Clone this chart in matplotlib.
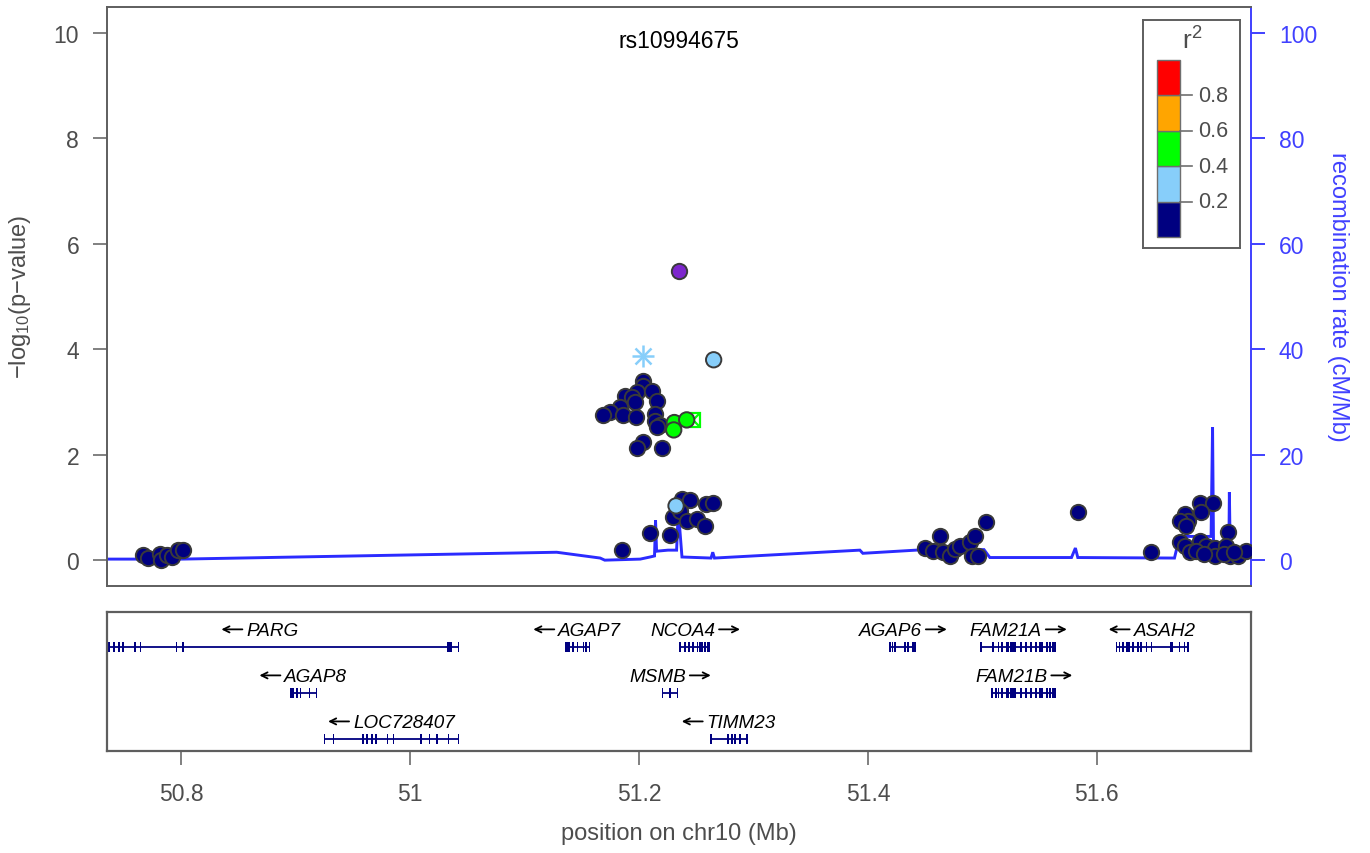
import matplotlib
matplotlib.use("Agg")
import matplotlib.pyplot as plt
from matplotlib.patches import Rectangle
from matplotlib.transforms import offset_copy

plt.rcParams['font.family'] = ['Liberation Sans', 'DejaVu Sans']
plt.rcParams['mathtext.fontset'] = 'custom'
plt.rcParams['mathtext.rm'] = 'Liberation Sans'
plt.rcParams['mathtext.it'] = 'Liberation Sans:italic'

# ---------------- data ----------------
chrom = "chr10"
index_snp = "rs10994675"
index_pos = 51.2349
index_logp = 5.49
flank = 0.5

# LD (r^2) bins and colours
ld_breaks = [0.0, 0.2, 0.4, 0.6, 0.8, 1.0]
ld_colors = ["#000080", "#87CEFA", "#00FF00", "#FFA500", "#FF0000"]

# SNPs with r^2 < 0.2
low_pos = [50.766, 50.771, 50.781, 50.782, 50.787, 50.792, 50.797, 50.801,
           51.2038, 51.2038, 51.1980, 51.2111, 51.1878, 51.1936, 51.2155,
           51.1834, 51.1965, 51.1747, 51.1688, 51.1863, 51.2140, 51.1971,
           51.2140, 51.2183, 51.2157, 51.2038, 51.1985, 51.2204,
           51.1849, 51.2096, 51.2271, 51.2294, 51.2373, 51.2445, 51.2358,
           51.2417, 51.2504, 51.2576, 51.2585, 51.2644,
           51.4498, 51.4570, 51.4629, 51.4658, 51.4716, 51.4760, 51.4803,
           51.4891, 51.4934, 51.4906, 51.4963, 51.5031, 51.5837,
           51.6478, 51.6900, 51.7016, 51.6769, 51.6798, 51.6725, 51.6915,
           51.6783, 51.7147, 51.6725, 51.6769, 51.6900, 51.6958, 51.7031,
           51.7133, 51.6812, 51.6870, 51.7031, 51.7162, 51.7234, 51.7308,
           51.6939, 51.7114, 51.7201]
low_logp = [0.09, 0.04, 0.11, 0.00, 0.09, 0.06, 0.19, 0.19,
            3.40, 3.30, 3.19, 3.21, 3.12, 3.09, 3.02,
            2.90, 3.00, 2.81, 2.76, 2.76, 2.77, 2.71,
            2.64, 2.56, 2.52, 2.24, 2.12, 2.13,
            0.20, 0.51, 0.47, 0.82, 1.16, 1.14, 0.94,
            0.75, 0.78, 0.65, 1.06, 1.09,
            0.24, 0.18, 0.46, 0.15, 0.08, 0.21, 0.27,
            0.34, 0.46, 0.08, 0.08, 0.72, 0.91,
            0.15, 1.09, 1.08, 0.87, 0.75, 0.75, 0.91,
            0.65, 0.54, 0.34, 0.27, 0.37, 0.27, 0.24,
            0.27, 0.15, 0.18, 0.07, 0.08, 0.07, 0.18,
            0.11, 0.11, 0.15]

# SNPs with higher LD to the index SNP
hi_pos = [51.2323, 51.2652, 51.2308, 51.2303, 51.2416]
hi_logp = [1.03, 3.80, 2.61, 2.47, 2.66]
hi_r2 = [0.30, 0.30, 0.50, 0.50, 0.50]

# annotated SNPs drawn with other symbols
star_pos, star_logp, star_r2 = [51.2033], [3.88], [0.30]
boxx_pos, boxx_logp, boxx_r2 = [51.2469], [2.66], [0.50]

# recombination rate (cM/Mb)
recomb_pos = [50.7349, 50.800, 51.128, 51.166, 51.170, 51.201, 51.2096,
              51.2135, 51.2144, 51.2153, 51.2253, 51.2328, 51.2338, 51.2352,
              51.2375, 51.2629, 51.2644, 51.2659, 51.393, 51.3956, 51.4498,
              51.5015, 51.5066, 51.578, 51.5814, 51.5835, 51.668, 51.6725,
              51.7000, 51.7013, 51.7022, 51.7155, 51.7160, 51.7168, 51.7349]
recomb_rate = [0.2, 0.2, 1.5, 0.4, 0.0, 0.2, 0.6,
               0.8, 7.6, 1.7, 1.9, 1.9, 7.0, 7.0,
               0.6, 0.4, 1.5, 0.4, 1.9, 1.3, 2.0,
               2.0, 0.5, 0.5, 2.3, 0.5, 0.4, 4.5,
               4.5, 25.2, 1.0, 1.0, 12.9, 0.5, 0.5]

# genes in the region
gene_names = ["PARG", "AGAP8", "LOC728407", "AGAP7", "NCOA4", "MSMB",
              "TIMM23", "AGAP6", "FAM21A", "FAM21B", "ASAH2"]
gene_start = [50.695, 50.8952, 50.9249, 51.1354, 51.2358, 51.2204,
              51.2629, 51.4192, 51.4984, 51.5080, 51.6172]
gene_end = [51.0422, 50.9180, 51.0422, 51.1566, 51.2620, 51.2335,
            51.2941, 51.4419, 51.5645, 51.5645, 51.6798]
gene_strand = ["-", "-", "-", "-", "+", "+", "-", "+", "+", "+", "-"]
gene_row = [0, 1, 2, 0, 0, 1, 2, 0, 0, 1, 0]
gene_exons = [
    [(50.7366, 50.7366), (50.7409, 50.7409), (50.7452, 50.7452), (50.7491, 50.7491),
     (50.7592, 50.7592), (50.7642, 50.7642), (50.7956, 50.7956), (50.8015, 50.8015),
     (51.0318, 51.0364), (51.0420, 51.0420)],
    [(50.8952, 50.8980), (50.9010, 50.9010), (50.9040, 50.9040), (50.9120, 50.9120),
     (50.9180, 50.9180)],
    [(50.9249, 50.9249), (50.9330, 50.9330), (50.9587, 50.9587), (50.9622, 50.9622),
     (50.9666, 50.9666), (50.9703, 50.9703), (50.9802, 50.9802), (50.9854, 50.9854),
     (51.0093, 51.0093), (51.0169, 51.0169), (51.0233, 51.0233), (51.0335, 51.0335),
     (51.0420, 51.0420)],
    [(51.1354, 51.1397), (51.1421, 51.1421), (51.1461, 51.1461), (51.1514, 51.1514),
     (51.1537, 51.1537), (51.1566, 51.1566)],
    [(51.2358, 51.2358), (51.2402, 51.2402), (51.2439, 51.2439), (51.2474, 51.2474),
     (51.2504, 51.2515), (51.2525, 51.2560), (51.2570, 51.2580), (51.2595, 51.2620)],
    [(51.2204, 51.2204), (51.2271, 51.2271), (51.2335, 51.2335)],
    [(51.2629, 51.2629), (51.2775, 51.2775), (51.2810, 51.2810), (51.2838, 51.2838),
     (51.2882, 51.2882), (51.2941, 51.2941)],
    [(51.4192, 51.4192), (51.4216, 51.4216), (51.4236, 51.4236), (51.4323, 51.4323),
     (51.4352, 51.4352), (51.4382, 51.4419)],
    [(51.4984, 51.5001), (51.5092, 51.5092), (51.5135, 51.5150), (51.5165, 51.5179),
     (51.5208, 51.5230), (51.5240, 51.5295), (51.5339, 51.5339), (51.5383, 51.5383),
     (51.5426, 51.5426), (51.5470, 51.5470), (51.5500, 51.5528), (51.5557, 51.5575),
     (51.5585, 51.5600), (51.5610, 51.5645)],
    [(51.5080, 51.5095), (51.5115, 51.5125), (51.5135, 51.5150), (51.5165, 51.5179),
     (51.5208, 51.5230), (51.5240, 51.5295), (51.5339, 51.5339), (51.5383, 51.5383),
     (51.5426, 51.5426), (51.5470, 51.5470), (51.5500, 51.5528), (51.5557, 51.5575),
     (51.5585, 51.5600), (51.5610, 51.5645)],
    [(51.6172, 51.6172), (51.6200, 51.6200), (51.6229, 51.6229), (51.6259, 51.6288),
     (51.6317, 51.6317), (51.6361, 51.6361), (51.6390, 51.6390), (51.6434, 51.6434),
     (51.6478, 51.6478), (51.6638, 51.6667), (51.6725, 51.6725), (51.6769, 51.6769),
     (51.6798, 51.6798)],
]

x_ticks = [50.8, 51.0, 51.2, 51.4, 51.6]
x_ticklabels = ["50.8", "51", "51.2", "51.4", "51.6"]
y_ticks = [0, 2, 4, 6, 8, 10]
recomb_ticks = [0, 20, 40, 60, 80, 100]

# ---------------- styling ----------------
GREY = "#4d4d4d"
FRAME = "#5e5e5e"
BLUE = "#2b2bff"
BLUE_TXT = "#4040ff"
GENE_COL = "#000080"
EDGE = "#3a3a3a"


def ld_color(r2):
    for lo, hi, c in zip(ld_breaks[:-1], ld_breaks[1:], ld_colors):
        if lo <= r2 < hi:
            return c
    return ld_colors[-1]


W, H = 1370, 854


def box(x0, y0, x1, y1):
    return [x0 / W, 1 - y1 / H, (x1 - x0) / W, (y1 - y0) / H]


fig = plt.figure(figsize=(13.7, 8.54), dpi=100)

# ---------------- association panel ----------------
ax = fig.add_axes(box(107, 8, 1251, 587))
ax2 = ax.twinx()
ax.set_zorder(ax2.get_zorder() + 1)
ax.patch.set_visible(False)

xlim = (index_pos - flank, index_pos + flank)
ylim = (-0.49, 10.49)
ax.set_xlim(xlim)
ax.set_ylim(ylim)
ax2.set_ylim(ylim[0] * 10, ylim[1] * 10)

ax2.plot(recomb_pos, recomb_rate, color=BLUE, lw=2.1, solid_joinstyle="miter", zorder=1)

pt_size = 122
ax.scatter(low_pos, low_logp, s=pt_size, c=ld_colors[0], edgecolors=EDGE,
           linewidths=1.4, zorder=3)
ax.scatter(hi_pos, hi_logp, s=pt_size, c=[ld_color(r) for r in hi_r2],
           edgecolors=EDGE, linewidths=1.4, zorder=4)
# asterisk symbol (plus + cross)
for p, v, r in zip(star_pos, star_logp, star_r2):
    ax.plot(p, v, marker="+", ms=16, mew=1.8, color=ld_color(r), zorder=4)
    ax.plot(p, v, marker="x", ms=11.3, mew=1.8, color=ld_color(r), zorder=4)
# square with cross
for p, v, r in zip(boxx_pos, boxx_logp, boxx_r2):
    ax.plot(p, v, marker="s", ms=10.5, mew=1.6, mfc="none", mec=ld_color(r), zorder=3.5)
    ax.plot(p, v, marker="x", ms=10.5, mew=1.6, color=ld_color(r), zorder=3.5)
# index SNP
ax.scatter([index_pos], [index_logp], s=pt_size, c="#7D26CD", edgecolors=EDGE,
           linewidths=1.4, zorder=5)

ax.text(index_pos, 9.85, index_snp, ha="center", va="center", fontsize=16.5, color="black")

ax.set_yticks(y_ticks)
ax.set_yticklabels([str(t) for t in y_ticks])
ax.tick_params(axis="y", length=10, width=1.1, color=FRAME, labelsize=16.5,
               labelcolor=GREY, pad=10)
ax.tick_params(axis="x", bottom=False, labelbottom=False)
for side in ["left", "top", "bottom"]:
    ax.spines[side].set_color(FRAME)
    ax.spines[side].set_linewidth(1.4)
ax.spines["right"].set_visible(False)

ax2.set_yticks(recomb_ticks)
ax2.set_yticklabels([str(t) for t in recomb_ticks])
ax2.tick_params(axis="y", length=10, width=1.4, color=BLUE_TXT, labelsize=16.5,
                labelcolor=BLUE_TXT, pad=10)
for side in ["left", "top", "bottom"]:
    ax2.spines[side].set_visible(False)
ax2.spines["right"].set_color(BLUE_TXT)
ax2.spines["right"].set_linewidth(1.4)

fig.text(20 / W, 1 - 297 / H, "\u2212log$_{\\mathregular{10}}$(p\u2212value)",
         rotation=90, ha="center", va="center", fontsize=17, color=GREY)
fig.text(1338 / W, 1 - 297 / H, "recombination rate (cM/Mb)", rotation=270,
         ha="center", va="center", fontsize=17, color=BLUE_TXT)

# ---------------- r^2 legend ----------------
lg = fig.add_axes(box(1143, 21, 1240, 249))
lg.set_xlim(0, 97)
lg.set_ylim(228, 0)
lg.set_xticks([])
lg.set_yticks([])
for s in lg.spines.values():
    s.set_color(FRAME)
    s.set_linewidth(1.4)
bar_top, seg_h = 39.7, 35.5
n = len(ld_colors)
for i, c in enumerate(ld_colors):
    y0 = bar_top + (n - 1 - i) * seg_h
    lg.add_patch(Rectangle((14, y0), 23, seg_h, facecolor=c, edgecolor="#6e6e6e", lw=1.0))
for i, b in enumerate(ld_breaks[1:-1]):
    yb = bar_top + (n - 1 - i) * seg_h
    lg.plot([37, 49], [yb, yb], color="#6e6e6e", lw=1.2)
    lg.text(55, yb, f"{b:.1f}", ha="left", va="center", fontsize=15.5, color=GREY)
lg.text(49, 20, "r$^{\\mathregular{2}}$", ha="center", va="center", fontsize=19, color=GREY)

# ---------------- gene panel ----------------
gx = fig.add_axes(box(107, 613, 1251, 752))
gx.set_xlim(xlim)
gx.set_ylim(-2.26, 0.76)
exon_h = 0.1
min_w = 0.0014
renderer = fig.canvas.get_renderer()
arrow_px, gap_px, arrow_dy = 21, 4, 1.5


def shifted(dx, dy=0.0):
    return offset_copy(gx.transData, fig=fig, x=dx, y=dy, units="dots")


for name, st, en, strand, row, exons in zip(gene_names, gene_start, gene_end,
                                            gene_strand, gene_row, gene_exons):
    y = -row
    gx.plot([st, en], [y, y], color=GENE_COL, lw=1.3, solid_capstyle="butt")
    for a, b in exons:
        w = max(b - a, min_w)
        cx = (a + b) / 2
        gx.add_patch(Rectangle((cx - w / 2, y - exon_h), w, 2 * exon_h,
                               facecolor=GENE_COL, edgecolor="none"))

    # gene name with a strand arrow, centred on the gene
    gc, ly = (st + en) / 2, y + 0.35
    t = gx.text(gc, ly, name, ha="center", va="center", fontsize=13.6,
                style="italic", color="black")
    wpx = t.get_window_extent(renderer).width
    total = arrow_px + gap_px + wpx
    if strand == "-":
        name_dx = (total - wpx) / 2
        tip, tail = -total / 2, -total / 2 + arrow_px
    else:
        name_dx = -(total - wpx) / 2
        tip, tail = total / 2, total / 2 - arrow_px
    t.set_transform(shifted(name_dx))
    gx.annotate("", xy=(gc, ly), xycoords=shifted(tip, arrow_dy),
                xytext=(gc, ly), textcoords=shifted(tail, arrow_dy),
                arrowprops=dict(arrowstyle="->", lw=1.3, color="black",
                                shrinkA=0, shrinkB=0, mutation_scale=11))

gx.set_yticks([])
gx.set_xticks(x_ticks)
gx.set_xticklabels(x_ticklabels)
gx.tick_params(axis="x", length=10, width=1.1, color=FRAME, labelsize=16.5,
               labelcolor=GREY, pad=12)
for s in gx.spines.values():
    s.set_color(FRAME)
    s.set_linewidth(1.6)

fig.text(0.5 * (107 + 1251) / W, 1 - 834 / H, f"position on {chrom} (Mb)",
         ha="center", va="center", fontsize=17, color=GREY)

fig.savefig("out.png", dpi=100)
